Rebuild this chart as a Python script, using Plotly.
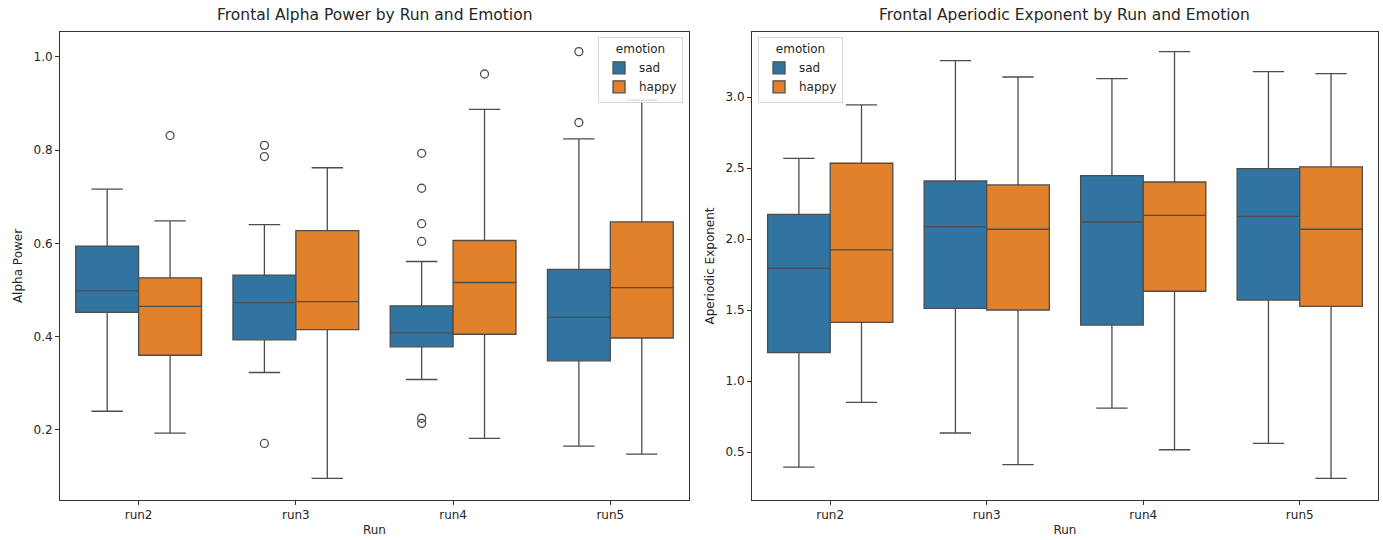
import plotly.graph_objects as go

runs = ["run2", "run3", "run4", "run5"]
emotions = ["sad", "happy"]

# Frontal alpha power (box statistics per run)
alpha_sad_lower = [0.240, 0.323, 0.308, 0.165]
alpha_sad_q1 = [0.452, 0.393, 0.378, 0.348]
alpha_sad_median = [0.498, 0.473, 0.408, 0.441]
alpha_sad_q3 = [0.594, 0.532, 0.466, 0.544]
alpha_sad_upper = [0.716, 0.640, 0.561, 0.824]

alpha_happy_lower = [0.193, 0.096, 0.182, 0.148]
alpha_happy_q1 = [0.360, 0.415, 0.405, 0.397]
alpha_happy_median = [0.465, 0.475, 0.516, 0.505]
alpha_happy_q3 = [0.526, 0.627, 0.606, 0.646]
alpha_happy_upper = [0.648, 0.762, 0.887, 0.907]

alpha_sad_out_runs = ["run3", "run3", "run3", "run4", "run4", "run4", "run4", "run4", "run4", "run5", "run5"]
alpha_sad_out_vals = [0.810, 0.786, 0.171, 0.793, 0.718, 0.642, 0.604, 0.225, 0.214, 1.011, 0.859]
alpha_happy_out_runs = ["run2", "run4"]
alpha_happy_out_vals = [0.831, 0.963]

# Frontal aperiodic exponent (box statistics per run)
aper_sad_lower = [0.394, 0.634, 0.810, 0.561]
aper_sad_q1 = [1.200, 1.513, 1.395, 1.571]
aper_sad_median = [1.795, 2.088, 2.121, 2.161]
aper_sad_q3 = [2.175, 2.410, 2.448, 2.497]
aper_sad_upper = [2.570, 3.258, 3.132, 3.181]

aper_happy_lower = [0.850, 0.411, 0.516, 0.314]
aper_happy_q1 = [1.414, 1.501, 1.633, 1.527]
aper_happy_median = [1.924, 2.070, 2.168, 2.070]
aper_happy_q3 = [2.535, 2.382, 2.403, 2.509]
aper_happy_upper = [2.946, 3.143, 3.322, 3.167]

colors = {"sad": "#3274a1", "happy": "#e1812c"}
line_col = "#4d4d4d"
offsets = {"sad": -0.2, "happy": 0.2}
FONT = "DejaVu Sans"

fig = go.Figure()

def add_boxes(stats, xaxis, yaxis, legend):
    for emo in emotions:
        lower, q1, med, q3, upper = stats[emo]
        xs = [i + offsets[emo] for i in range(len(runs))]
        fig.add_trace(go.Box(
            x=xs, lowerfence=lower, q1=q1, median=med, q3=q3, upperfence=upper,
            name=emo, width=0.4, whiskerwidth=0.5, boxpoints=False,
            fillcolor=colors[emo], line=dict(color=line_col, width=1.3),
            xaxis=xaxis, yaxis=yaxis, legend=legend, showlegend=True,
            hoverinfo="skip",
        ))

def add_outliers(out_runs, out_vals, emo, xaxis, yaxis):
    xs = [runs.index(r) + offsets[emo] for r in out_runs]
    fig.add_trace(go.Scatter(
        x=xs, y=out_vals, mode="markers",
        marker=dict(symbol="circle-open", size=8, color=line_col, line=dict(width=1.3)),
        showlegend=False, xaxis=xaxis, yaxis=yaxis, hoverinfo="skip",
    ))

add_boxes({
    "sad": (alpha_sad_lower, alpha_sad_q1, alpha_sad_median, alpha_sad_q3, alpha_sad_upper),
    "happy": (alpha_happy_lower, alpha_happy_q1, alpha_happy_median, alpha_happy_q3, alpha_happy_upper),
}, "x", "y", "legend")
add_outliers(alpha_sad_out_runs, alpha_sad_out_vals, "sad", "x", "y")
add_outliers(alpha_happy_out_runs, alpha_happy_out_vals, "happy", "x", "y")

add_boxes({
    "sad": (aper_sad_lower, aper_sad_q1, aper_sad_median, aper_sad_q3, aper_sad_upper),
    "happy": (aper_happy_lower, aper_happy_q1, aper_happy_median, aper_happy_q3, aper_happy_upper),
}, "x2", "y2", "legend2")

axis_common = dict(
    showline=True, mirror=True, linecolor="#333333", linewidth=1,
    ticks="outside", ticklen=4, tickcolor="#333333", showgrid=False, zeroline=False,
    tickfont=dict(family=FONT, size=12, color="#262626"), automargin=False,
)
x_common = dict(axis_common, range=[-0.5, 3.5], tickmode="array",
                tickvals=list(range(len(runs))), ticktext=runs,
                title=dict(text="Run", font=dict(family=FONT, size=12, color="#262626"), standoff=4))

legend_common = dict(
    bgcolor="rgba(255,255,255,0.8)", bordercolor="#d6d6d6", borderwidth=1,
    font=dict(family=FONT, size=12, color="#262626"),
    title=dict(text="emotion", side="top center", font=dict(family=FONT, size=12, color="#262626")),
    yanchor="top", y=0.99, tracegroupgap=0, itemclick=False,
)

fig.update_layout(
    width=1383, height=540,
    margin=dict(l=60, r=5, t=32, b=40, autoexpand=False),
    paper_bgcolor="white", plot_bgcolor="white",
    showlegend=True,
    xaxis=dict(x_common, domain=[0.0, 0.4772], anchor="y"),
    xaxis2=dict(x_common, domain=[0.5250, 1.0], anchor="y2"),
    yaxis=dict(axis_common, domain=[0, 1], anchor="x", range=[0.0497, 1.053],
               tickmode="array", tickvals=[0.2, 0.4, 0.6, 0.8, 1.0], tickformat=".1f",
               title=dict(text="Alpha Power", font=dict(family=FONT, size=12, color="#262626"), standoff=8)),
    yaxis2=dict(axis_common, domain=[0, 1], anchor="x2", range=[0.162, 3.460],
                tickmode="array", tickvals=[0.5, 1.0, 1.5, 2.0, 2.5, 3.0], tickformat=".1f",
                title=dict(text="Aperiodic Exponent", font=dict(family=FONT, size=12, color="#262626"), standoff=8)),
    legend=dict(legend_common, x=0.4727, xanchor="right"),
    legend2=dict(legend_common, x=0.5296, xanchor="left"),
    annotations=[
        dict(text="Frontal Alpha Power by Run and Emotion", xref="x domain", yref="paper",
             x=0.5, y=1, yshift=6, xanchor="center", yanchor="bottom", showarrow=False,
             font=dict(family=FONT, size=15.5, color="#262626")),
        dict(text="Frontal Aperiodic Exponent by Run and Emotion", xref="x2 domain", yref="paper",
             x=0.5, y=1, yshift=6, xanchor="center", yanchor="bottom", showarrow=False,
             font=dict(family=FONT, size=15.5, color="#262626")),
    ],
)

fig.write_html("out.html", config={"displayModeBar": False},
               post_script="document.body.style.margin='0';document.body.style.overflow='hidden';")
